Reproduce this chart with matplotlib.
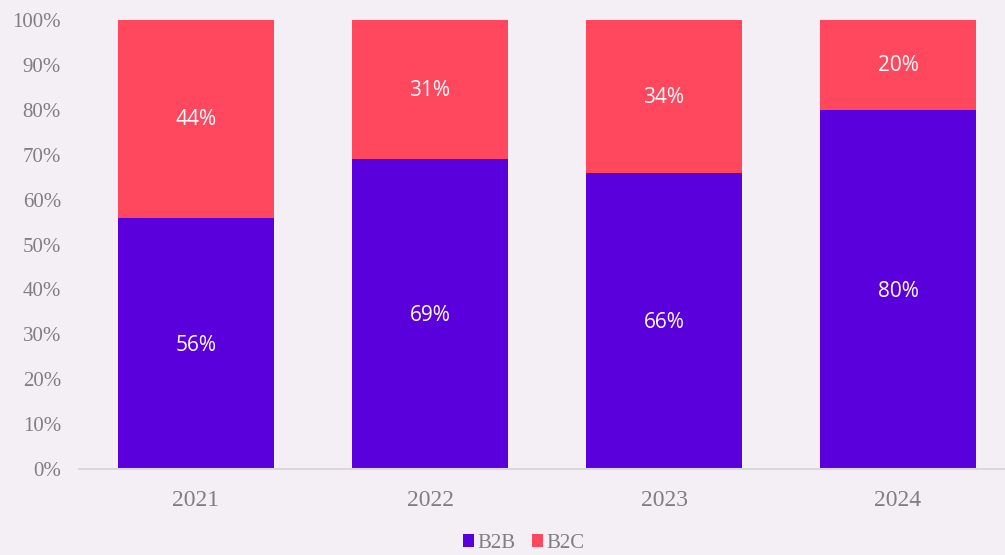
import matplotlib.pyplot as plt
import numpy as np

years = ['2021', '2022', '2023', '2024']
b2b = [56, 69, 66, 80]
b2c = [44, 31, 34, 20]
ticks = [0, 10, 20, 30, 40, 50, 60, 70, 80, 90, 100]


def main():
    bg = '#f4eff5'
    purple = '#5a00dc'
    red = '#ff475e'
    grey = '#7f7f7f'

    fig = plt.figure(figsize=(10.05, 5.55), dpi=100, facecolor=bg)
    ax = fig.add_axes([79 / 1005, 1 - 469 / 555, 1 - 79 / 1005, 449 / 555])
    ax.set_facecolor(bg)

    x = np.arange(len(years))
    w = 0.667
    ax.bar(x, b2b, w, color=purple, label='B2B')
    ax.bar(x, b2c, w, bottom=b2b, color=red, label='B2C')

    for i in range(len(years)):
        ax.text(x[i], b2b[i] / 2 - 0.4, f'{b2b[i]}%', ha='center', va='center',
                color='white', fontsize=15, family='Open Sans')
        ax.text(x[i], b2b[i] + b2c[i] / 2 - 0.2, f'{b2c[i]}%', ha='center', va='center',
                color='white', fontsize=15, family='Open Sans')

    ax.set_xlim(-0.5, 3.5 - 10 / 234)
    ax.set_ylim(0, 100)
    ax.set_yticks(ticks)
    ax.set_yticklabels([f'{t}%' for t in ticks])
    ax.set_xticks(x)
    ax.set_xticklabels(years)
    ax.tick_params(length=0, colors=grey, labelsize=15)
    ax.tick_params(axis='x', labelsize=17, pad=15)
    ax.tick_params(axis='y', pad=13)
    for lab in ax.get_xticklabels() + ax.get_yticklabels():
        lab.set_family('Liberation Serif')

    for s in ['top', 'right', 'left']:
        ax.spines[s].set_visible(False)
    ax.spines['bottom'].set_color('#d9d9d9')
    ax.spines['bottom'].set_linewidth(1.5)

    # legend sits a bit right of centre, like the original
    leg = fig.legend(loc='lower center', bbox_to_anchor=(0.521, -0.03), ncol=2, frameon=False,
                     handlelength=0.52, handleheight=0.52, handletextpad=0.15, columnspacing=0.8,
                     prop={'family': 'Liberation Serif', 'size': 15})
    for t in leg.get_texts():
        t.set_color(grey)

    fig.savefig('out.png', dpi=100, facecolor=bg)


if __name__ == "__main__":
    main()
